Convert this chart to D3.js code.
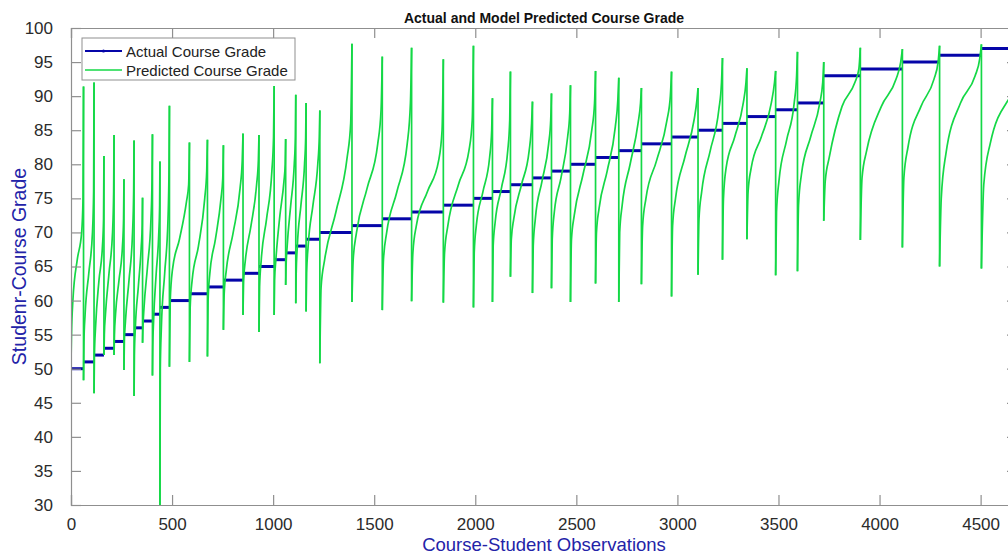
<html>
<head>
<meta charset="utf-8">
<style>
body { margin: 0; background: #fff; }
text { font-family: Arial, "Liberation Sans", Helvetica, sans-serif; }
</style>
</head>
<body>
<svg id="chart"></svg>
<script src="https://cdnjs.cloudflare.com/ajax/libs/d3/7.8.5/d3.min.js"></script>
<script>

// actual grade of each group of observations, and where the group begins
var grades = [50,51,52,53,54,55,56,57,58,59,60,61,62,63,64,65,66,67,68,69,
              70,71,72,73,74,75,76,77,78,79,80,81,82,83,84,85,86,87,88,89,
              93,94,95,96,97]
var groupStart = [0,62,114,163,213,262,312,354,403,440,487,586,675,754,851,930,1005,1062,1112,1163,
                  1231,1390,1540,1685,1842,1991,2085,2174,2283,2377,2471,2595,2710,2822,2971,3102,3223,3344,3486,3594,
                  3724,3905,4113,4297,4504]
var lastGroupEnd = 4792

// predicted grade (sorted) read at these fractions of each group
var predFracs = [0, 0.04, 0.15, 0.5, 0.85, 0.96, 1]
var predicted = [
  [51, 55, 60, 66, 70, 75, 91.4],
  [48.3, 54, 58, 64, 70, 76, 92],
  [46.4, 52, 56, 63, 68, 72, 81.2],
  [52, 55, 58, 64, 70, 76, 84.3],
  [52, 55, 58, 63, 68, 72, 77.8],
  [49.8, 54, 57, 63, 70, 76, 83.5],
  [46, 52, 56, 62, 68, 71, 75.1],
  [53.8, 56, 59, 65, 72, 78, 84.4],
  [49, 53, 57, 64, 70, 74, 80.4],
  [30, 50, 56, 64, 72, 80, 88.6],
  [50.3, 60, 64.5, 69, 74.5, 77, 83.2],
  [51, 59, 63, 68, 75, 79, 83.6],
  [51.8, 60, 64, 69, 75, 78, 82.8],
  [55.7, 61, 64.5, 70, 76.5, 80.5, 84.5],
  [57.9, 63, 66, 71, 77, 80.5, 84.3],
  [55.4, 62, 66, 72, 79, 84, 91.5],
  [57.9, 63, 66, 72.5, 77.5, 80, 83.7],
  [62.3, 65, 68, 74, 80, 84, 90.2],
  [59.6, 64, 68, 74, 80, 84, 89],
  [58.4, 64, 68, 74, 80, 84, 87.9],
  [50.8, 62, 66, 73, 81, 86, 97.7],
  [59.8, 66, 70, 76.5, 83, 88, 95.8],
  [58.6, 66, 70, 76, 83, 89, 97.1],
  [59.9, 67, 71, 76, 80.5, 85, 95.4],
  [59.7, 67, 71, 77, 82, 86.5, 97.4],
  [59, 67, 71, 76, 81, 85, 89.7],
  [59.8, 68, 71.5, 76.5, 82, 86.5, 93.6],
  [63.5, 69, 72, 77, 82, 86, 89.2],
  [61.1, 68, 72, 77.5, 83, 86.5, 90.4],
  [61.8, 69, 73, 78, 84, 87.5, 91.6],
  [59.8, 69, 72.5, 78.5, 85, 89, 93.7],
  [62.5, 70, 73.5, 79, 85.5, 89.5, 92.7],
  [59.8, 70, 74, 80, 86, 89, 91.2],
  [62.4, 71, 75, 80.5, 86.5, 90, 93.6],
  [60.6, 71, 75, 81, 86.5, 89.5, 91.2],
  [63.8, 72, 76, 82, 88, 92, 95.6],
  [66, 75, 79.5, 84, 89, 92, 94.1],
  [69, 76, 79.5, 84, 89, 92, 93.7],
  [63.7, 73, 77.5, 83.5, 89, 93, 96.5],
  [64.3, 74, 78.5, 84, 89, 92, 95],
  [71.7, 77.5, 81, 88.5, 92, 94, 97.1],
  [68.9, 78, 82, 88.5, 92.5, 95, 96.9],
  [67.8, 78, 82.5, 88.5, 92.5, 95, 97.4],
  [65, 75, 81.5, 89, 93, 95.5, 97.6],
  [64.7, 77, 83, 90, 94, 96, 98]
]

var xTicks = [0,500,1000,1500,2000,2500,3000,3500,4000,4500]
var yTicks = [30,35,40,45,50,55,60,65,70,75,80,85,90,95,100]
var xMax = 4680

var W = 1008, H = 556
var pLeft = 71, pTop = 28, pRight = 1017, pBottom = 505
var axisColor = "#8f8f8f", tickText = "#2b2b2b", labelBlue = "#2323a8"
var blue = "#0505a8", green = "#14d846"

var svg = d3.select("#chart").attr("width", W).attr("height", H)

var x = d3.scaleLinear().domain([0, xMax]).range([pLeft, pRight])
var y = d3.scaleLinear().domain([30, 100]).range([pBottom, pTop])

function groupEnd(i) { return i < grades.length - 1 ? groupStart[i + 1] : lastGroupEnd }

// per group: actual level and the sorted predicted curve
var groups = grades.map(function(g, i) {
  var s = groupStart[i], e = groupEnd(i)
  return {
    grade: g,
    level: [[s, g], [e, g]],
    curve: predFracs.map(function(f, k) { return [s + f * (e - s), predicted[i][k]] })
  }
})

svg.append("clipPath").attr("id", "plotclip")
  .append("rect").attr("x", pLeft).attr("y", pTop - 1)
  .attr("width", pRight - pLeft).attr("height", pBottom - pTop + 2)

var plot = svg.append("g").attr("clip-path", "url(#plotclip)")

var flat = d3.line().x(function(d) { return x(d[0]) }).y(function(d) { return y(d[1]) })
var smooth = d3.line().x(function(d) { return x(d[0]) }).y(function(d) { return y(d[1]) }).curve(d3.curveMonotoneX)

plot.selectAll(".actual").data(groups).enter().append("path")
  .attr("class", "actual")
  .attr("fill", "none")
  .attr("stroke", blue)
  .attr("stroke-width", 3)
  .attr("d", function(d) { return flat(d.level) })

plot.selectAll(".pred").data(groups).enter().append("path")
  .attr("class", "pred")
  .attr("fill", "none")
  .attr("stroke", green)
  .attr("stroke-width", 1.7)
  .attr("stroke-linejoin", "round")
  .attr("d", function(d) { return smooth(d.curve) })

// drop from the top of one group to the bottom of the next
plot.selectAll(".drop").data(groups.slice(1)).enter().append("line")
  .attr("class", "drop")
  .attr("stroke", green)
  .attr("stroke-width", 1.7)
  .attr("x1", function(d, i) { return x(groupStart[i + 1]) })
  .attr("x2", function(d, i) { return x(groupStart[i + 1]) })
  .attr("y1", function(d, i) { return y(predicted[i][predFracs.length - 1]) })
  .attr("y2", function(d, i) { return y(predicted[i + 1][0]) })

// axes, matlab style box with inward ticks
var tickLen = 10
var gx = svg.append("g").attr("transform", "translate(0," + pBottom + ")")
  .call(d3.axisBottom(x).tickValues(xTicks).tickSize(-tickLen).tickPadding(tickLen + 3).tickFormat(d3.format("d")))
var gxt = svg.append("g").attr("transform", "translate(0," + pTop + ")")
  .call(d3.axisTop(x).tickValues(xTicks).tickSize(-tickLen).tickFormat(""))
var gy = svg.append("g").attr("transform", "translate(" + pLeft + ",0)")
  .call(d3.axisLeft(y).tickValues(yTicks).tickSize(-tickLen).tickPadding(tickLen + 8))
var gyr = svg.append("g").attr("transform", "translate(" + pRight + ",0)")
  .call(d3.axisRight(y).tickValues(yTicks).tickSize(-tickLen).tickFormat(""))

;[gx, gxt, gy, gyr].forEach(function(g) {
  g.select(".domain").attr("stroke", axisColor).attr("stroke-width", 1.2)
  g.selectAll(".tick line").attr("stroke", axisColor).attr("stroke-width", 1.2)
  g.selectAll(".tick text").attr("fill", tickText).style("font-size", "17px")
    .style("font-family", "Arial, 'Liberation Sans', sans-serif")
})

// title and axis labels
svg.append("text").attr("x", 544).attr("y", 23).attr("text-anchor", "middle")
  .style("font-size", "14px").style("font-weight", "bold").attr("fill", "#111")
  .text("Actual and Model Predicted Course Grade")

svg.append("text").attr("x", 544).attr("y", 551).attr("text-anchor", "middle")
  .style("font-size", "18.5px").attr("fill", labelBlue)
  .text("Course-Student Observations")

svg.append("text")
  .attr("transform", "translate(26," + ((pTop + pBottom) / 2) + ") rotate(-90)")
  .attr("text-anchor", "middle")
  .style("font-size", "19.5px").attr("fill", labelBlue)
  .text("Studenr-Course Grade")

// legend
var lg = svg.append("g")
lg.append("rect").attr("x", 82).attr("y", 38).attr("width", 213).attr("height", 42)
  .attr("fill", "#fff").attr("stroke", axisColor).attr("stroke-width", 1)
var legendItems = [
  { name: "Actual Course Grade", color: blue, w: 2 },
  { name: "Predicted Course Grade", color: green, w: 1.7 }
]
legendItems.forEach(function(it, i) {
  var ly = 51 + i * 19
  lg.append("line").attr("x1", 85).attr("x2", 122).attr("y1", ly).attr("y2", ly)
    .attr("stroke", it.color).attr("stroke-width", it.w)
  lg.append("text").attr("x", 126).attr("y", ly + 5.5)
    .style("font-size", "15px").attr("fill", "#222").text(it.name)
})
lg.append("circle").attr("cx", 103.5).attr("cy", 51).attr("r", 1.6).attr("fill", blue)

</script>
</body>
</html>
